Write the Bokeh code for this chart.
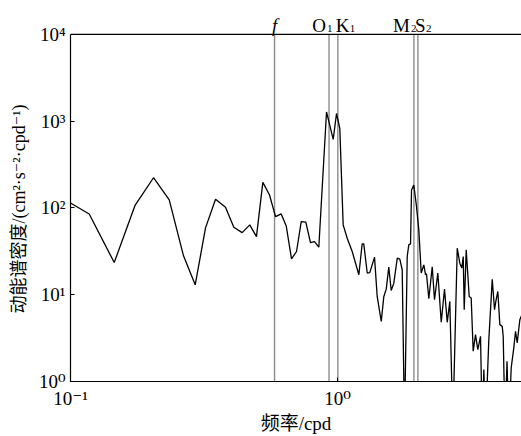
from bokeh.plotting import figure
from bokeh.models import Range1d, FixedTicker, Span
from bokeh.core.properties import value
from bokeh.embed import file_html
from bokeh.resources import INLINE

# frequency (cpd) and kinetic energy spectral density (cm^2 s^-2 cpd^-1)
freq = [0.100, 0.1175, 0.1458, 0.1747, 0.2046, 0.2343, 0.2650, 0.2931, 0.3204, 0.3493,
        0.3806, 0.4089, 0.4395, 0.4692, 0.4971, 0.5252, 0.5564, 0.5860, 0.6153, 0.6425,
        0.6725, 0.7023, 0.7313, 0.7608, 0.7920, 0.8202, 0.8511, 0.9095, 0.9636, 0.9914,
        1.020, 1.050, 1.087, 1.135, 1.202, 1.237, 1.254, 1.292, 1.321, 1.376,
        1.408, 1.458, 1.491, 1.522, 1.556, 1.589, 1.625, 1.674, 1.711, 1.747,
        1.782, 1.824, 1.849, 1.877, 1.893, 1.931, 1.976, 2.016, 2.058, 2.105,
        2.136, 2.154, 2.198, 2.263, 2.308, 2.375, 2.446, 2.516, 2.576, 2.634,
        2.703, 2.808, 2.871, 2.921, 2.957, 2.982, 3.034, 3.113, 3.167, 3.222,
        3.287, 3.353, 3.432, 3.483, 3.532, 3.584, 3.687, 3.797, 3.873, 3.916,
        3.985, 4.054, 4.139, 4.174, 4.240, 4.313, 4.381, 4.472, 4.573, 4.642,
        4.710, 4.818, 4.887]
psd = [114, 85.3, 23.5, 108, 223, 124, 28.1, 13.0, 58.9, 126,
       102, 60.0, 52.0, 63.8, 46.8, 197, 141, 79.4, 85.3, 62.1,
       25.9, 31.5, 69.6, 68.5, 39.9, 41.0, 35.3, 1279, 616, 1226,
       824, 63.8, 44.8, 31.5, 17.0, 38.6, 38.6, 17.8, 18.0, 27.1,
       9.56, 4.93, 9.56, 11.6, 20.8, 11.2, 13.6, 26.4, 25.7, 19.4,
       0.3, 27.6, 37.6, 38.6, 161, 184, 104, 55.9, 17.8, 22.1,
       17.0, 17.4, 9.00, 21.0, 8.76, 17.8, 4.81, 11.6, 4.81, 8.37,
       0.3, 34.4, 23.1, 20.3, 27.6, 6.72, 32.9, 9.56, 9.17, 2.23,
       3.47, 2.33, 3.32, 0.3, 1.37, 0.3, 3.04, 15.1, 6.72, 8.37,
       10.9, 4.52, 4.32, 3.32, 0.3, 1.71, 0.3, 1.44, 2.44, 3.79,
       2.79, 5.16, 5.74]

# marked frequencies: inertial f and tidal constituents
mark_freq = [0.581, 0.9295, 1.0027, 1.9323, 2.0]
mark_main = ["f", "O", "K", "M", "S"]
mark_sub = ["", "1", "1", "2", "2"]

x_ticks = [0.1, 1.0]
x_tick_labels = ["10\u207b\u00b9", "10\u2070"]
y_ticks = [1, 10, 100, 1000, 10000]
y_tick_labels = ["10\u2070", "10\u00b9", "10\u00b2", "10\u00b3", "10\u2074"]
y_min, y_max = 1, 10000

SERIF = "'Liberation Serif', 'DejaVu Serif', 'Noto Sans CJK SC'"

# frame reaches the top of the canvas; the band above y_max holds the constituent labels
p = figure(width=521, height=436, x_axis_type="log", y_axis_type="log",
           x_range=Range1d(0.1, 4.887), y_range=Range1d(y_min, 24600),
           output_backend="svg", toolbar_location=None,
           min_border_left=70, min_border_top=0, min_border_right=0, min_border_bottom=54)
p.outline_line_color = None
p.xgrid.visible = False
p.ygrid.visible = False

for ax in (p.xaxis[0], p.yaxis[0]):
    ax.axis_line_color = "black"
    ax.axis_line_width = 1.2
    ax.major_tick_in = 4
    ax.major_tick_out = 0
    ax.major_tick_line_color = "black"
    ax.minor_tick_in = 0
    ax.minor_tick_out = 0
    ax.major_label_text_font = SERIF
    ax.major_label_text_font_size = "19px"
    ax.major_label_text_color = "black"
    ax.axis_label_text_font = SERIF
    ax.axis_label_text_font_size = "19px"
    ax.axis_label_text_font_style = "normal"
    ax.axis_label_text_color = "black"

p.yaxis.axis_label_text_font_size = "18px"
p.yaxis.bounds = (y_min, y_max)
p.xaxis.ticker = FixedTicker(ticks=x_ticks)
p.yaxis.ticker = FixedTicker(ticks=y_ticks)
p.xaxis.major_label_overrides = {t: l for t, l in zip(x_ticks, x_tick_labels)}
p.yaxis.major_label_overrides = {t: l for t, l in zip(y_ticks, y_tick_labels)}
p.xaxis.major_label_standoff = 6
p.yaxis.major_label_standoff = 5
p.xaxis.axis_label = "频率/cpd"
# trailing no-break spaces centre the visible text on the 10^0..10^4 span rather than the full frame
p.yaxis.axis_label = "动能谱密度/(cm\u00b2\u00b7s\u207b\u00b2\u00b7cpd\u207b\u00b9)" + "\u00a0" * 8
p.xaxis.axis_label_standoff = 1
p.yaxis.axis_label_standoff = 7

# top border of the data area
p.add_layout(Span(location=y_max, dimension="width", line_color="black", line_width=1.2))

# constituent marker lines
p.segment(x0=mark_freq, y0=[y_min] * len(mark_freq), x1=mark_freq, y1=[y_max] * len(mark_freq),
          line_color="#8c8c8c", line_width=1.4)

p.line(freq, psd, line_color="black", line_width=1.3)

main_align = ["center", "right", "left", "right", "left"]
main_off = [0, -3, -2, -4, -3]
sub_off = [0, -2, 12, -3, 8]
for fr, m, s, al, mo, so in zip(mark_freq, mark_main, mark_sub, main_align, main_off, sub_off):
    p.text(x=[fr], y=[y_max], text=[m], x_offset=mo, y_offset=-9, text_align=al,
           text_baseline="alphabetic", text_font=value("Liberation Serif"),
           text_font_size="19px",
           text_font_style="italic" if m == "f" else "normal", text_color="black")
    if s:
        p.text(x=[fr], y=[y_max], text=[s], x_offset=so, y_offset=-6, text_align="left",
               text_baseline="alphabetic", text_font=value("Liberation Serif"),
               text_font_size="11px", text_color="black")

open("out.html", "w").write(file_html(p, INLINE))
